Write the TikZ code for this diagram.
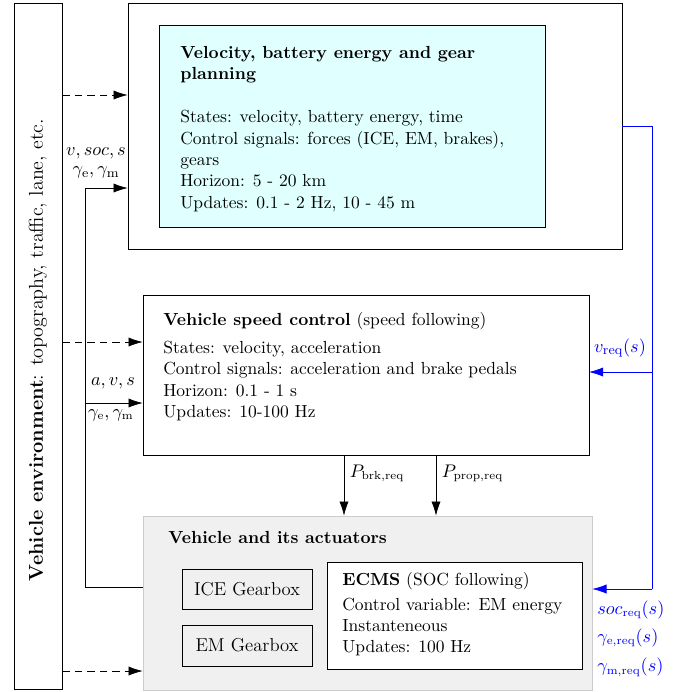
\documentclass[tikz,border=0pt]{standalone}
\usepackage{amsmath,amssymb}
\usetikzlibrary{arrows.meta,positioning,calc}
\definecolor{planbg}{RGB}{224,255,255}
\definecolor{vehbg}{RGB}{240,240,240}

\begin{document}
\begin{tikzpicture}[x=0.6pt,y=-0.6pt,font=\fontsize{10.5}{12.8}\selectfont,
  txt/.style={align=left,anchor=north west,inner sep=0pt},
  gbox/.style={draw,minimum width=130*0.6pt,minimum height=40*0.6pt,font=\fontsize{11.2}{13}\selectfont},
  arr/.style={-{Latex[length=8.5pt,width=5.5pt]}},
  envarr/.style={dash pattern=on 4.5pt off 3pt,-{Latex[length=8.5pt,width=5.5pt]}},
  req/.style={blue,-{Latex[length=8.5pt,width=5.5pt]}}
]
  \useasboundingbox (0,0) rectangle (698,691);
  % environment
  \node[draw,minimum width=48*0.6pt,minimum height=686*0.6pt] (env) at (38,346) {};
  \node[rotate=90,font=\large] (envtxt) at (38,350) {\textbf{Vehicle environment}: topography, traffic, lane, etc.};
  % planning
  \node[draw,minimum width=494*0.6pt,minimum height=246*0.6pt] (plan) at (375,126) {};
  \node[draw,fill=planbg,minimum width=386*0.6pt,minimum height=202*0.6pt] (inner) at (352,126) {};
  \node[txt] (plantxt) at (180,46) {\textbf{Velocity, battery energy and gear}\\\textbf{planning}\\[13pt]
    States: velocity, battery energy, time\\
    Control signals: forces (ICE, EM, brakes),\\
    gears\\
    Horizon: 5 - 20 km\\
    Updates: 0.1 - 2 Hz, 10 - 45 m};
  % speed control
  \node[draw,minimum width=446*0.6pt,minimum height=160*0.6pt] (speed) at (366,375) {};
  \node[txt] (speedtxt) at (163,312) {\textbf{Vehicle speed control} (speed following)\\[4pt]
    States: velocity, acceleration\\
    Control signals: acceleration and brake pedals\\
    Horizon: 0.1 - 1 s\\
    Updates: 10-100 Hz};
  % vehicle
  \node[draw=gray!40,fill=vehbg,minimum width=449*0.6pt,minimum height=174*0.6pt] (veh) at (367.5,603) {};
  \node[txt] (vehtxt) at (168,531) {\textbf{Vehicle and its actuators}};
  \node[gbox] (ice) at (247,589) {ICE Gearbox};
  \node[gbox,minimum height=41*0.6pt] (em) at (247,645.5) {EM Gearbox};
  \node[draw,fill=white,minimum width=255*0.6pt,minimum height=107*0.6pt] (ecms) at (454.5,615.5) {};
  \node[txt] (ecmstxt) at (342,572) {\textbf{ECMS} (SOC following)\\[2pt]
    Control variable: EM energy\\
    Instanteneous\\
    Updates: 100 Hz};

  % environment inputs
  \draw[envarr] (env.east |- 0,95) -- (plan.west |- 0,95);
  \draw[envarr] (env.east |- 0,342) -- (speed.west |- 0,342);
  \draw[envarr] (env.east |- 0,671) -- (veh.west |- 0,671);

  % feedback
  \coordinate (fb) at (85,587);
  \draw (veh.west |- fb) -- (fb) -- (fb |- 0,188);
  \draw[arr] (fb |- 0,188) -- (plan.west |- 0,188);
  \draw[arr] (fb |- 0,403) -- (speed.west |- 0,403);
  \node[align=center,font=\fontsize{11.2}{13}\selectfont] (fbplan) at (96,163) {$v, soc, s$\\[-2pt]$\gamma_\mathrm{e}, \gamma_\mathrm{m}$};
  \node[font=\fontsize{11.2}{13}\selectfont] (fbsp1) at (113,383) {$a, v, s$};
  \node (fbsp2) at (111,415) {$\gamma_\mathrm{e}, \gamma_\mathrm{m}$};

  % power requests
  \coordinate (brk) at (344,0);
  \coordinate (prop) at (436,0);
  \draw[arr] (speed.south -| brk) -- node[right,pos=.3] {$P_\mathrm{brk,req}$} (veh.north -| brk);
  \draw[arr] (speed.south -| prop) -- node[right,pos=.3] {$P_\mathrm{prop,req}$} (veh.north -| prop);

  % references
  \coordinate (bus) at (652,126);
  \coordinate (vin) at (589,372);
  \draw[blue] (plan.east) -- (bus) -- (bus |- ice);
  \draw[req] (bus |- vin) -- (vin);
  \draw[req] (bus |- ice) -- (veh.east |- ice);
  \node[blue,font=\fontsize{11}{13}\selectfont] (vreq) at (620,348) {$v_\mathrm{req}(s)$};
  \node[blue,align=left,anchor=north west,inner sep=0pt] (socreq) at (597,600) {$soc_\mathrm{req}(s)$\\[4pt]$\gamma_\mathrm{e,req}(s)$\\[5pt]$\gamma_\mathrm{m,req}(s)$};
\end{tikzpicture}
\end{document}
